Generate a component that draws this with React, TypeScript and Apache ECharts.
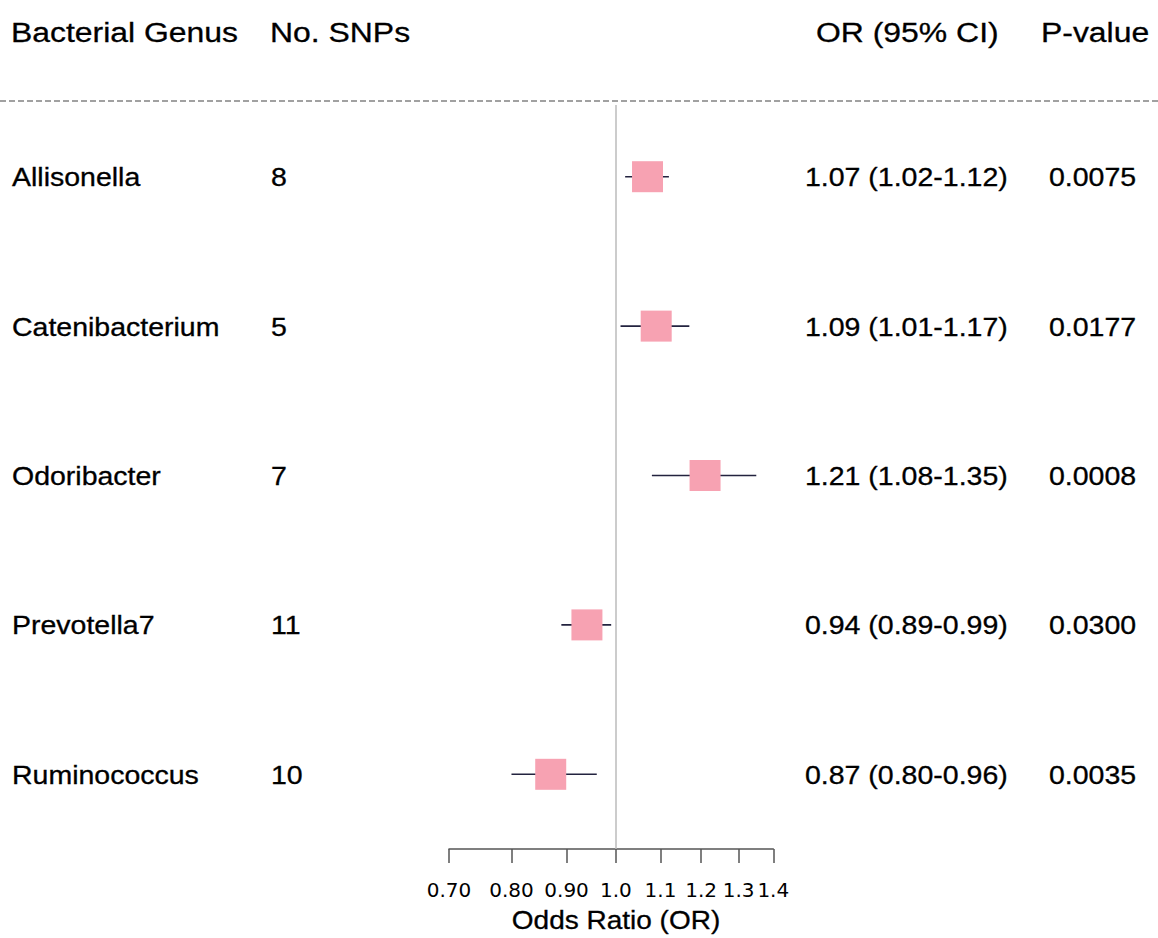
import React, { useEffect, useRef } from "react";
import * as echarts from "echarts";

// Forest plot data: one row per bacterial genus
const GENERA = ["Allisonella", "Catenibacterium", "Odoribacter", "Prevotella7", "Ruminococcus"];
const SNP_COUNTS = [8, 5, 7, 11, 10];
const OR_VALUES = [1.07, 1.09, 1.21, 0.94, 0.87];
const CI_LOWER = [1.02, 1.01, 1.08, 0.89, 0.8];
const CI_UPPER = [1.12, 1.17, 1.35, 0.99, 0.96];
const P_VALUES = ["0.0075", "0.0177", "0.0008", "0.0300", "0.0035"];

// Odds-ratio axis (log scale)
const TICK_VALUES = [0.7, 0.8, 0.9, 1.0, 1.1, 1.2, 1.3, 1.4];
const TICK_LABELS = ["0.70", "0.80", "0.90", "1.0", "1.1", "1.2", "1.3", "1.4"];
const AXIS_TITLE = "Odds Ratio (OR)";

const HEADERS = ["Bacterial Genus", "No. SNPs", "OR (95% CI)", "P-value"];

// Table column left edges (px)
const COL_GENUS = 12;
const COL_SNP = 271;
const COL_OR = 805;
const COL_P = 1049;
const HEADER_X = [11, 270, 816, 1041];

const FONT = "'Liberation Sans', Arial, sans-serif";
const STRETCH = 1.14;
const BOX = 31;

const fmtCI = (i: number) =>
  `${OR_VALUES[i].toFixed(2)} (${CI_LOWER[i].toFixed(2)}-${CI_UPPER[i].toFixed(2)})`;

const tickLogs = TICK_VALUES.map((v) => Math.log(v));
const tickLabelFor = (v: number) => {
  let best = 0;
  tickLogs.forEach((t, i) => {
    if (Math.abs(t - v) < Math.abs(tickLogs[best] - v)) best = i;
  });
  return TICK_LABELS[best];
};

const textEl = (text: string, x: number, y: number, size: number) => ({
  type: "text",
  x,
  y,
  scaleX: STRETCH,
  style: {
    text,
    x: 0,
    y: 0,
    fontSize: size,
    fontFamily: FONT,
    fill: "#000",
    stroke: "#000",
    lineWidth: 0.3,
    align: "left",
    verticalAlign: "middle",
  },
});

export default function App() {
  const ref = useRef<HTMLDivElement>(null);

  useEffect(() => {
    if (!ref.current) return;
    const chart = echarts.init(ref.current, undefined, { renderer: "svg" });

    const ciData = GENERA.map((_, i) => [
      Math.log(CI_LOWER[i]),
      Math.log(CI_UPPER[i]),
      Math.log(OR_VALUES[i]),
      i,
    ]);
    const rowData = GENERA.map((_, i) => [0, i]);

    chart.setOption({
      animation: false,
      backgroundColor: "#ffffff",
      grid: { left: 449, right: 384.7, top: 105, bottom: 89 },
      xAxis: {
        type: "value",
        min: Math.log(TICK_VALUES[0]),
        max: Math.log(TICK_VALUES[TICK_VALUES.length - 1]),
        position: "bottom",
        splitLine: { show: false },
        axisLine: { show: true, onZero: false, lineStyle: { color: "#555", width: 1.5 } },
        axisTick: {
          show: true,
          length: 14,
          customValues: tickLogs,
          lineStyle: { color: "#555", width: 1.5 },
        },
        axisLabel: {
          customValues: tickLogs,
          formatter: (v: number) => tickLabelFor(v),
          margin: 31,
          fontSize: 20,
          fontFamily: "'DejaVu Sans', sans-serif",
          color: "#000",
        },
      },
      yAxis: {
        type: "value",
        inverse: true,
        min: -0.48,
        max: 4.5,
        show: false,
      },
      series: [
        {
          // null-effect line at OR = 1
          type: "scatter",
          data: [],
          z: 1,
          markLine: {
            silent: true,
            symbol: "none",
            label: { show: false },
            lineStyle: { color: "#bbbbbb", width: 1.5, type: "solid" },
            data: [{ xAxis: 0 }],
          },
        },
        {
          type: "custom",
          z: 3,
          clip: false,
          data: ciData,
          encode: { x: [0, 1, 2], y: 3 },
          renderItem: (_params: any, api: any) => {
            const row = api.value(3);
            const lo = api.coord([api.value(0), row]);
            const hi = api.coord([api.value(1), row]);
            const mid = api.coord([api.value(2), row]);
            return {
              type: "group",
              children: [
                {
                  type: "line",
                  shape: { x1: lo[0], y1: lo[1], x2: hi[0], y2: hi[1] },
                  style: { stroke: "#23233f", lineWidth: 1.6 },
                },
                {
                  type: "rect",
                  shape: { x: mid[0] - BOX / 2, y: mid[1] - BOX / 2, width: BOX, height: BOX },
                  style: { fill: "#f7a2b2" },
                },
              ],
            };
          },
        },
        {
          type: "custom",
          z: 3,
          clip: false,
          silent: true,
          data: rowData,
          encode: { x: 0, y: 1 },
          renderItem: (params: any, api: any) => {
            const i = params.dataIndex;
            const y = api.coord([0, api.value(1)])[1] + 1;
            return {
              type: "group",
              children: [
                textEl(GENERA[i], COL_GENUS, y, 25),
                textEl(String(SNP_COUNTS[i]), COL_SNP, y, 25),
                textEl(fmtCI(i), COL_OR, y, 25),
                textEl(P_VALUES[i], COL_P, y, 25),
              ],
            };
          },
        },
      ],
      graphic: [
        ...HEADERS.map((h, k) => textEl(h, HEADER_X[k], 32, 28)),
        {
          type: "line",
          shape: { x1: 0, y1: 101, x2: 1158, y2: 101 },
          style: { stroke: "#444", lineWidth: 1.2, lineDash: [6, 3] },
        },
        {
          type: "text",
          x: 616,
          y: 921,
          scaleX: 1.12,
          style: {
            text: AXIS_TITLE,
            x: 0,
            y: 0,
            fontSize: 25,
            fontFamily: FONT,
            fill: "#000",
            stroke: "#000",
            lineWidth: 0.3,
            align: "center",
            verticalAlign: "middle",
          },
        },
      ],
    });

    return () => chart.dispose();
  }, []);

  return (
    <div
      ref={ref}
      style={{ position: "absolute", left: 0, top: 0, width: 1158, height: 938, background: "#fff" }}
    />
  );
}
